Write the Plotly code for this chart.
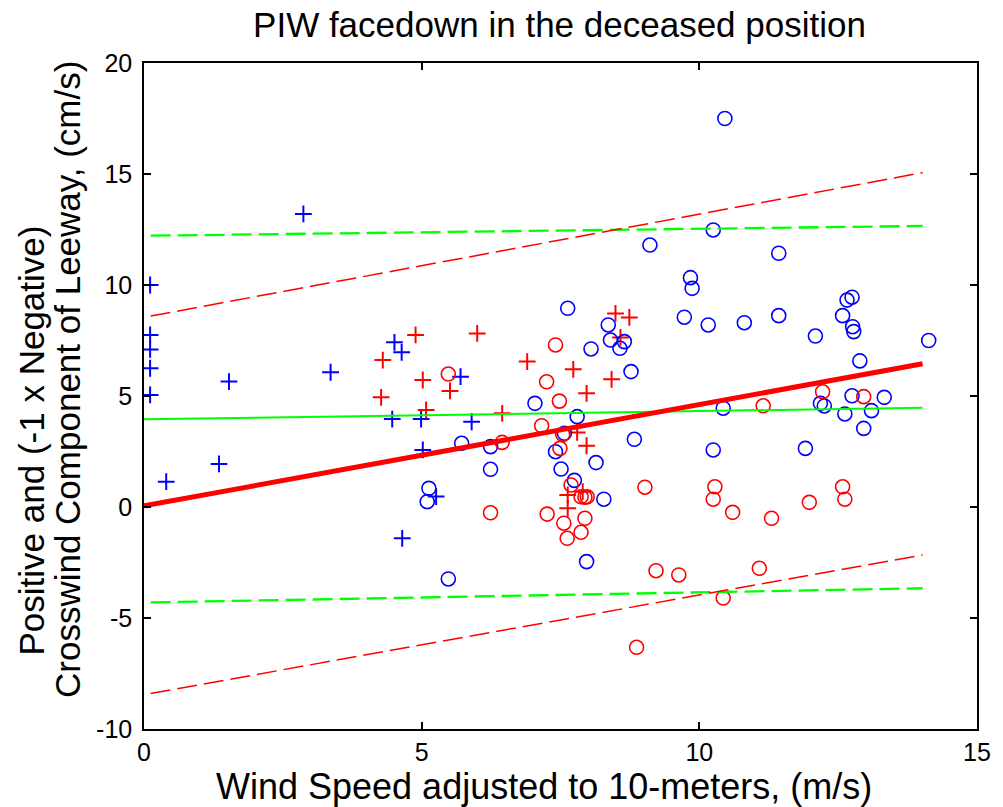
import plotly.graph_objects as go

# ---------------- data ----------------
blue_plus_x = [0.11, 0.11, 0.11, 0.11, 0.11, 0.40, 1.35, 1.53, 2.87, 3.36, 4.47, 4.51, 4.64, 4.65, 4.99, 5.02, 5.26, 5.70, 5.90]
blue_plus_y = [10.0, 7.75, 7.10, 6.25, 5.05, 1.14, 1.94, 5.65, 13.2, 6.07, 3.96, 7.42, 6.97, -1.41, 3.96, 2.57, 0.47, 5.87, 3.84]

red_plus_x = [4.27, 4.30, 4.89, 5.02, 5.08, 5.51, 6.00, 6.45, 6.90, 7.63, 7.63, 7.73, 7.80, 7.90, 7.97, 7.97, 8.42, 8.49, 8.58, 8.74]
red_plus_y = [4.94, 6.62, 7.75, 5.72, 4.37, 5.23, 7.82, 4.22, 6.55, 0.54, -0.06, 6.20, 3.36, 0.69, 5.12, 2.76, 5.75, 8.72, 7.64, 8.54]

blue_circ_x = [5.10, 5.13, 5.48, 5.72, 6.24, 6.24, 7.04, 7.41, 7.51, 7.57, 7.63, 7.75, 7.80, 7.97, 8.05, 8.14, 8.28,
               8.36, 8.40, 8.57, 8.65, 8.77, 8.83, 9.11, 9.73, 9.84, 9.87, 10.16, 10.25, 10.25, 10.43, 10.46, 10.81,
               11.43, 11.43, 11.91, 12.09, 12.18, 12.25, 12.58, 12.62, 12.66, 12.75, 12.75, 12.76, 12.78, 12.89,
               12.96, 13.10, 13.33, 14.13]
blue_circ_y = [0.24, 0.84, -3.24, 2.87, 2.72, 1.70, 4.67, 2.49, 1.71, 3.32, 8.95, 1.20, 4.07, -2.46, 7.12, 2.00, 0.35,
               8.20, 7.52, 7.15, 7.45, 6.10, 3.05, 11.80, 8.55, 10.33, 9.85, 8.20, 12.48, 2.57, 4.45, 17.50, 8.30,
               11.43, 8.62, 2.64, 7.70, 4.67, 4.55, 8.62, 4.19, 9.32, 9.45, 5.01, 8.12, 7.90, 6.58,
               3.54, 4.34, 4.94, 7.50]

red_circ_x = [5.48, 6.24, 6.45, 7.16, 7.25, 7.26, 7.41, 7.48, 7.49, 7.54, 7.56, 7.62, 7.69, 7.87, 7.87, 7.94, 7.94,
              7.98, 8.87, 9.02, 9.22, 9.63, 10.25, 10.28, 10.43, 10.60, 11.08, 11.15, 11.30, 11.98, 12.22, 12.58,
              12.62, 12.96]
red_circ_y = [5.99, -0.26, 2.91, 3.66, 5.64, -0.32, 7.30, 4.77, 2.64, 3.27, -0.73, -1.41, 0.99, -1.14, 0.46, -0.51, 0.44,
              0.46, -6.32, 0.89, -2.87, -3.06, 0.35, 0.91, -4.10, -0.24, -2.76, 4.56, -0.51, 0.21, 5.19, 0.91,
              0.35, 4.97]

fit_x = [0.0, 14.02]
fit_y = [0.05, 6.45]
band_x = [0.12, 14.02]
pred_upper_y = [8.60, 15.06]
pred_lower_y = [-8.40, -2.16]
mean_x = [0.0, 14.02]
mean_y = [3.95, 4.47]
mean_upper_y = [12.22, 12.66]
mean_lower_y = [-4.30, -3.66]

x_ticks = [0, 5, 10, 15]
y_ticks = [-10, -5, 0, 5, 10, 15, 20]

BLUE = "#0000ff"
RED = "#ff0000"
GREEN = "#00ff00"
FONT = "Liberation Sans, Arial, sans-serif"

fig = go.Figure()

def markers(x, y, color, symbol, size, width):
    fig.add_trace(go.Scatter(x=x, y=y, mode="markers", showlegend=False,
                             marker=dict(symbol=symbol, size=size, color=color,
                                         line=dict(color=color, width=width))))

markers(blue_plus_x, blue_plus_y, BLUE, "cross-thin-open", 12, 2)
markers(red_plus_x, red_plus_y, RED, "cross-thin-open", 12, 2)
markers(blue_circ_x, blue_circ_y, BLUE, "circle-open", 14, 1.6)
markers(red_circ_x, red_circ_y, RED, "circle-open", 14, 1.6)

def line(x, y, color, width, dash="solid"):
    fig.add_trace(go.Scatter(x=x, y=y, mode="lines", showlegend=False,
                             line=dict(color=color, width=width, dash=dash)))

line(band_x, mean_upper_y, GREEN, 2.3, "20px,7px")
line(band_x, mean_lower_y, GREEN, 2.3, "20px,7px")
line(mean_x, mean_y, GREEN, 2)
line(band_x, pred_upper_y, RED, 1.5, "20px,7px")
line(band_x, pred_lower_y, RED, 1.5, "20px,7px")
line(fit_x, fit_y, RED, 5)

axis_common = dict(showline=True, linecolor="black", linewidth=1.5, mirror="ticks",
                   ticks="inside", ticklen=7, tickwidth=1.5, tickcolor="black",
                   showgrid=False, zeroline=False,
                   tickfont=dict(family=FONT, size=25, color="black"))

fig.update_layout(
    width=1003, height=807, autosize=False,
    margin=dict(l=144, r=15, t=63, b=78),
    paper_bgcolor="white", plot_bgcolor="white",
    xaxis=dict(range=[0, 15], tickvals=x_ticks, ticktext=[str(v) for v in x_ticks], **axis_common),
    yaxis=dict(range=[-10, 20], tickvals=y_ticks, ticktext=[str(v) for v in y_ticks],
               ticklabelstandoff=5, **axis_common),
    title=dict(text="PIW facedown in the deceased position", x=(565 - 144) / 844, xref="paper",
               y=1 - 25 / 807, yref="container", yanchor="middle", xanchor="center",
               font=dict(family=FONT, size=35, color="black")),
    annotations=[
        dict(text="Wind Speed adjusted to 10-meters, (m/s)", xref="paper", yref="paper",
             x=(549 - 144) / 844, y=(729 - 786) / 666, showarrow=False,
             xanchor="center", yanchor="middle",
             font=dict(family=FONT, size=36, color="black")),
        dict(text="Positive and (-1 x Negative)", xref="paper", yref="paper",
             x=(30 - 144) / 844, y=(729 - 440) / 666, showarrow=False, textangle=-90,
             xanchor="center", yanchor="middle",
             font=dict(family=FONT, size=35, color="black")),
        dict(text="Crosswind Component of Leeway, (cm/s)", xref="paper", yref="paper",
             x=(66 - 144) / 844, y=(729 - 380) / 666, showarrow=False, textangle=-90,
             xanchor="center", yanchor="middle",
             font=dict(family=FONT, size=35, color="black")),
    ],
)

fig.write_html("out.html")
